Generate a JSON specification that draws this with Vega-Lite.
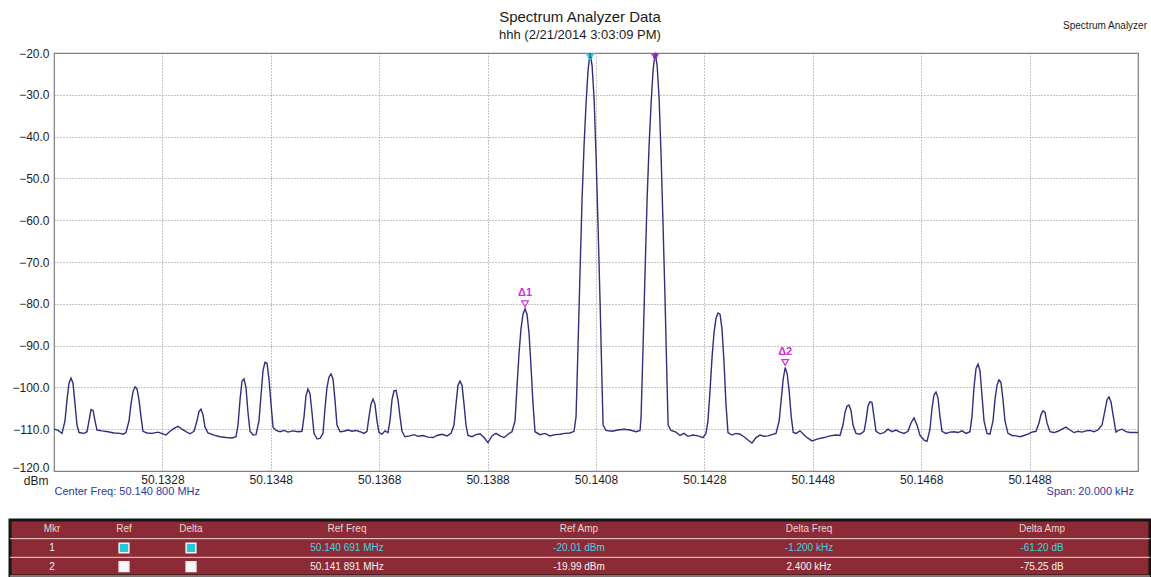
{
  "$schema": "https://vega.github.io/schema/vega-lite/v6.json",
  "background": "white",
  "padding": {"left": 8, "top": 10, "right": 0, "bottom": 0},
  "spacing": 20,
  "title": {
    "text": "Spectrum Analyzer Data",
    "subtitle": "hhh (2/21/2014 3:03:09 PM)",
    "anchor": "middle",
    "frame": "bounds",
    "font": "Liberation Sans",
    "subtitleFont": "Liberation Sans",
    "fontSize": 15,
    "fontWeight": "normal",
    "color": "#1c1c1c",
    "subtitleFontSize": 13,
    "subtitleColor": "#1c1c1c",
    "subtitlePadding": 4,
    "offset": -22
  },
  "config": {
    "font": "Liberation Sans",
    "axis": {"labelFont": "Liberation Sans", "titleFont": "Liberation Sans"}
  },
  "datasets": {
    "trace": [
      {"freq": 50.130800, "amp": -110.0}, {"freq": 50.130874, "amp": -110.3}, {"freq": 50.130948, "amp": -111.0},
      {"freq": 50.131003, "amp": -108}, {"freq": 50.131040, "amp": -103}, {"freq": 50.131077, "amp": -99},
      {"freq": 50.131114, "amp": -97.8}, {"freq": 50.131151, "amp": -99}, {"freq": 50.131188, "amp": -104},
      {"freq": 50.131224, "amp": -109}, {"freq": 50.131261, "amp": -110.8}, {"freq": 50.131354, "amp": -111.0},
      {"freq": 50.131409, "amp": -110.6}, {"freq": 50.131446, "amp": -108}, {"freq": 50.131483, "amp": -105.3},
      {"freq": 50.131520, "amp": -105.5}, {"freq": 50.131557, "amp": -108}, {"freq": 50.131593, "amp": -110.2},
      {"freq": 50.131686, "amp": -110.4}, {"freq": 50.131796, "amp": -110.6}, {"freq": 50.131907, "amp": -110.9},
      {"freq": 50.132018, "amp": -111.0}, {"freq": 50.132073, "amp": -111.2}, {"freq": 50.132128, "amp": -110.8},
      {"freq": 50.132184, "amp": -108}, {"freq": 50.132221, "amp": -104}, {"freq": 50.132258, "amp": -101},
      {"freq": 50.132295, "amp": -99.9}, {"freq": 50.132331, "amp": -100.3}, {"freq": 50.132368, "amp": -103},
      {"freq": 50.132405, "amp": -107}, {"freq": 50.132442, "amp": -110.5}, {"freq": 50.132516, "amp": -110.9},
      {"freq": 50.132608, "amp": -111.0}, {"freq": 50.132719, "amp": -110.7}, {"freq": 50.132811, "amp": -111.1},
      {"freq": 50.132866, "amp": -111.4}, {"freq": 50.132940, "amp": -110.5}, {"freq": 50.133014, "amp": -109.8},
      {"freq": 50.133088, "amp": -109.3}, {"freq": 50.133162, "amp": -110.0}, {"freq": 50.133235, "amp": -110.6},
      {"freq": 50.133309, "amp": -111.1}, {"freq": 50.133383, "amp": -110.5}, {"freq": 50.133438, "amp": -108},
      {"freq": 50.133475, "amp": -105.8}, {"freq": 50.133512, "amp": -105.2}, {"freq": 50.133549, "amp": -106.5},
      {"freq": 50.133586, "amp": -109.5}, {"freq": 50.133641, "amp": -110.9}, {"freq": 50.133752, "amp": -111.4},
      {"freq": 50.133863, "amp": -111.8}, {"freq": 50.133973, "amp": -112.0}, {"freq": 50.134084, "amp": -112.1},
      {"freq": 50.134158, "amp": -111.8}, {"freq": 50.134195, "amp": -109}, {"freq": 50.134232, "amp": -103},
      {"freq": 50.134269, "amp": -98.5}, {"freq": 50.134306, "amp": -98.0}, {"freq": 50.134342, "amp": -100},
      {"freq": 50.134379, "amp": -106}, {"freq": 50.134416, "amp": -110.5}, {"freq": 50.134472, "amp": -111.4},
      {"freq": 50.134527, "amp": -111.3}, {"freq": 50.134582, "amp": -108}, {"freq": 50.134619, "amp": -102},
      {"freq": 50.134656, "amp": -96}, {"freq": 50.134693, "amp": -94.0}, {"freq": 50.134730, "amp": -94.2},
      {"freq": 50.134767, "amp": -98}, {"freq": 50.134804, "amp": -104}, {"freq": 50.134841, "amp": -109.5},
      {"freq": 50.134896, "amp": -110.3}, {"freq": 50.134970, "amp": -110.6}, {"freq": 50.135044, "amp": -110.3},
      {"freq": 50.135117, "amp": -110.7}, {"freq": 50.135210, "amp": -110.4}, {"freq": 50.135302, "amp": -110.6},
      {"freq": 50.135376, "amp": -110.5}, {"freq": 50.135413, "amp": -107}, {"freq": 50.135449, "amp": -102},
      {"freq": 50.135486, "amp": -100.4}, {"freq": 50.135523, "amp": -101.5}, {"freq": 50.135560, "amp": -106},
      {"freq": 50.135597, "amp": -111}, {"freq": 50.135652, "amp": -112.3}, {"freq": 50.135708, "amp": -112.2},
      {"freq": 50.135763, "amp": -111}, {"freq": 50.135800, "amp": -105}, {"freq": 50.135837, "amp": -100},
      {"freq": 50.135874, "amp": -97.5}, {"freq": 50.135911, "amp": -96.8}, {"freq": 50.135948, "amp": -98},
      {"freq": 50.135984, "amp": -103}, {"freq": 50.136021, "amp": -109}, {"freq": 50.136077, "amp": -110.6},
      {"freq": 50.136150, "amp": -110.5}, {"freq": 50.136224, "amp": -110.2}, {"freq": 50.136298, "amp": -110.5},
      {"freq": 50.136372, "amp": -110.3}, {"freq": 50.136446, "amp": -110.6}, {"freq": 50.136520, "amp": -111.0},
      {"freq": 50.136575, "amp": -110.5}, {"freq": 50.136612, "amp": -107}, {"freq": 50.136649, "amp": -104},
      {"freq": 50.136686, "amp": -102.8}, {"freq": 50.136722, "amp": -104}, {"freq": 50.136759, "amp": -108},
      {"freq": 50.136796, "amp": -110.8}, {"freq": 50.136852, "amp": -111.2}, {"freq": 50.136907, "amp": -110.4},
      {"freq": 50.136962, "amp": -110.8}, {"freq": 50.136999, "amp": -108}, {"freq": 50.137036, "amp": -103},
      {"freq": 50.137073, "amp": -100.8}, {"freq": 50.137110, "amp": -100.7}, {"freq": 50.137147, "amp": -103},
      {"freq": 50.137184, "amp": -107}, {"freq": 50.137221, "amp": -110.5}, {"freq": 50.137276, "amp": -111.8},
      {"freq": 50.137368, "amp": -111.6}, {"freq": 50.137442, "amp": -111.3}, {"freq": 50.137516, "amp": -111.7},
      {"freq": 50.137608, "amp": -111.5}, {"freq": 50.137700, "amp": -111.9}, {"freq": 50.137793, "amp": -112.0},
      {"freq": 50.137866, "amp": -111.5}, {"freq": 50.137959, "amp": -111.2}, {"freq": 50.138051, "amp": -111.6},
      {"freq": 50.138125, "amp": -111.0}, {"freq": 50.138180, "amp": -109}, {"freq": 50.138217, "amp": -104},
      {"freq": 50.138254, "amp": -99.5}, {"freq": 50.138291, "amp": -98.5}, {"freq": 50.138328, "amp": -99.5},
      {"freq": 50.138365, "amp": -104}, {"freq": 50.138401, "amp": -109}, {"freq": 50.138438, "amp": -111.5},
      {"freq": 50.138512, "amp": -111.8}, {"freq": 50.138586, "amp": -111.3}, {"freq": 50.138660, "amp": -111.1},
      {"freq": 50.138734, "amp": -112.0}, {"freq": 50.138807, "amp": -113.2}, {"freq": 50.138881, "amp": -111.6},
      {"freq": 50.138955, "amp": -111.0}, {"freq": 50.139029, "amp": -111.6}, {"freq": 50.139103, "amp": -112.0},
      {"freq": 50.139176, "amp": -111.2}, {"freq": 50.139250, "amp": -110.6}, {"freq": 50.139306, "amp": -108},
      {"freq": 50.139342, "amp": -100}, {"freq": 50.139379, "amp": -92}, {"freq": 50.139416, "amp": -86},
      {"freq": 50.139453, "amp": -82.5}, {"freq": 50.139491, "amp": -81.21}, {"freq": 50.139527, "amp": -82.5},
      {"freq": 50.139564, "amp": -87}, {"freq": 50.139601, "amp": -95}, {"freq": 50.139638, "amp": -104},
      {"freq": 50.139675, "amp": -110.6}, {"freq": 50.139767, "amp": -111.3}, {"freq": 50.139859, "amp": -111.0},
      {"freq": 50.139951, "amp": -111.6}, {"freq": 50.140043, "amp": -111.3}, {"freq": 50.140136, "amp": -111.2},
      {"freq": 50.140228, "amp": -111.0}, {"freq": 50.140320, "amp": -110.9}, {"freq": 50.140395, "amp": -110.5},
      {"freq": 50.140432, "amp": -107}, {"freq": 50.140469, "amp": -90}, {"freq": 50.140506, "amp": -72},
      {"freq": 50.140543, "amp": -55}, {"freq": 50.140580, "amp": -42}, {"freq": 50.140617, "amp": -32},
      {"freq": 50.140654, "amp": -24}, {"freq": 50.140691, "amp": -20.01}, {"freq": 50.140728, "amp": -23},
      {"freq": 50.140765, "amp": -31}, {"freq": 50.140802, "amp": -45}, {"freq": 50.140839, "amp": -62},
      {"freq": 50.140876, "amp": -80}, {"freq": 50.140913, "amp": -100}, {"freq": 50.140931, "amp": -109},
      {"freq": 50.140984, "amp": -110.3}, {"freq": 50.141095, "amp": -110.5}, {"freq": 50.141206, "amp": -110.2},
      {"freq": 50.141317, "amp": -110.0}, {"freq": 50.141427, "amp": -110.2}, {"freq": 50.141538, "amp": -110.6},
      {"freq": 50.141613, "amp": -110.3}, {"freq": 50.141632, "amp": -107}, {"freq": 50.141669, "amp": -90},
      {"freq": 50.141706, "amp": -72}, {"freq": 50.141743, "amp": -55}, {"freq": 50.141780, "amp": -42},
      {"freq": 50.141817, "amp": -32}, {"freq": 50.141854, "amp": -24}, {"freq": 50.141891, "amp": -19.99},
      {"freq": 50.141928, "amp": -23}, {"freq": 50.141965, "amp": -31}, {"freq": 50.142002, "amp": -45},
      {"freq": 50.142039, "amp": -62}, {"freq": 50.142076, "amp": -80}, {"freq": 50.142113, "amp": -100},
      {"freq": 50.142131, "amp": -109}, {"freq": 50.142184, "amp": -110.3}, {"freq": 50.142276, "amp": -110.7},
      {"freq": 50.142350, "amp": -111.5}, {"freq": 50.142424, "amp": -111.0}, {"freq": 50.142497, "amp": -111.7},
      {"freq": 50.142590, "amp": -111.4}, {"freq": 50.142682, "amp": -111.6}, {"freq": 50.142774, "amp": -112.0},
      {"freq": 50.142829, "amp": -111.0}, {"freq": 50.142866, "amp": -108}, {"freq": 50.142903, "amp": -101},
      {"freq": 50.142940, "amp": -93}, {"freq": 50.142977, "amp": -87}, {"freq": 50.143014, "amp": -83.5},
      {"freq": 50.143051, "amp": -82.2}, {"freq": 50.143088, "amp": -82.5}, {"freq": 50.143125, "amp": -86},
      {"freq": 50.143162, "amp": -94}, {"freq": 50.143198, "amp": -104}, {"freq": 50.143235, "amp": -110.8},
      {"freq": 50.143309, "amp": -111.4}, {"freq": 50.143383, "amp": -111.0}, {"freq": 50.143457, "amp": -111.2},
      {"freq": 50.143531, "amp": -111.8}, {"freq": 50.143604, "amp": -112.6}, {"freq": 50.143678, "amp": -113.3},
      {"freq": 50.143752, "amp": -112.0}, {"freq": 50.143826, "amp": -111.4}, {"freq": 50.143900, "amp": -111.7},
      {"freq": 50.143973, "amp": -111.6}, {"freq": 50.144047, "amp": -111.3}, {"freq": 50.144121, "amp": -111.0},
      {"freq": 50.144180, "amp": -108}, {"freq": 50.144217, "amp": -103}, {"freq": 50.144254, "amp": -98},
      {"freq": 50.144291, "amp": -95.24}, {"freq": 50.144328, "amp": -96.8}, {"freq": 50.144365, "amp": -101},
      {"freq": 50.144402, "amp": -107}, {"freq": 50.144439, "amp": -110.8}, {"freq": 50.144490, "amp": -111.0},
      {"freq": 50.144564, "amp": -110.4}, {"freq": 50.144674, "amp": -111.8}, {"freq": 50.144785, "amp": -112.8},
      {"freq": 50.144896, "amp": -112.3}, {"freq": 50.145007, "amp": -112.0}, {"freq": 50.145117, "amp": -111.6},
      {"freq": 50.145228, "amp": -111.4}, {"freq": 50.145302, "amp": -111.5}, {"freq": 50.145357, "amp": -109},
      {"freq": 50.145394, "amp": -106}, {"freq": 50.145431, "amp": -104.5}, {"freq": 50.145468, "amp": -104.2},
      {"freq": 50.145505, "amp": -105.5}, {"freq": 50.145542, "amp": -109}, {"freq": 50.145597, "amp": -111.0},
      {"freq": 50.145671, "amp": -111.2}, {"freq": 50.145745, "amp": -110.5}, {"freq": 50.145781, "amp": -108},
      {"freq": 50.145818, "amp": -104.5}, {"freq": 50.145855, "amp": -103.4}, {"freq": 50.145892, "amp": -103.6},
      {"freq": 50.145929, "amp": -107}, {"freq": 50.145966, "amp": -110.5}, {"freq": 50.146040, "amp": -111.1},
      {"freq": 50.146114, "amp": -110.8}, {"freq": 50.146187, "amp": -110.0}, {"freq": 50.146261, "amp": -110.6},
      {"freq": 50.146335, "amp": -110.2}, {"freq": 50.146409, "amp": -110.7}, {"freq": 50.146483, "amp": -111.0},
      {"freq": 50.146556, "amp": -110.5}, {"freq": 50.146612, "amp": -108.5}, {"freq": 50.146667, "amp": -107.3},
      {"freq": 50.146722, "amp": -109}, {"freq": 50.146778, "amp": -111.5}, {"freq": 50.146852, "amp": -112.6},
      {"freq": 50.146907, "amp": -112.9}, {"freq": 50.146962, "amp": -110}, {"freq": 50.146999, "amp": -105},
      {"freq": 50.147036, "amp": -101.8}, {"freq": 50.147073, "amp": -101.1}, {"freq": 50.147110, "amp": -102.5},
      {"freq": 50.147147, "amp": -107}, {"freq": 50.147184, "amp": -110.5}, {"freq": 50.147257, "amp": -111.0},
      {"freq": 50.147331, "amp": -110.7}, {"freq": 50.147405, "amp": -110.6}, {"freq": 50.147479, "amp": -110.8},
      {"freq": 50.147553, "amp": -110.4}, {"freq": 50.147626, "amp": -111.0}, {"freq": 50.147700, "amp": -110.6},
      {"freq": 50.147737, "amp": -107}, {"freq": 50.147774, "amp": -100}, {"freq": 50.147811, "amp": -95.5},
      {"freq": 50.147848, "amp": -94.4}, {"freq": 50.147885, "amp": -96}, {"freq": 50.147922, "amp": -102},
      {"freq": 50.147959, "amp": -108}, {"freq": 50.148014, "amp": -111.0}, {"freq": 50.148069, "amp": -111.2},
      {"freq": 50.148125, "amp": -108}, {"freq": 50.148161, "amp": -103}, {"freq": 50.148198, "amp": -99.5},
      {"freq": 50.148235, "amp": -98.2}, {"freq": 50.148272, "amp": -98.8}, {"freq": 50.148309, "amp": -103},
      {"freq": 50.148346, "amp": -108}, {"freq": 50.148401, "amp": -111.0}, {"freq": 50.148475, "amp": -111.5},
      {"freq": 50.148549, "amp": -111.6}, {"freq": 50.148623, "amp": -111.8}, {"freq": 50.148697, "amp": -111.5},
      {"freq": 50.148770, "amp": -111.2}, {"freq": 50.148844, "amp": -110.7}, {"freq": 50.148918, "amp": -110.5},
      {"freq": 50.148973, "amp": -108.5}, {"freq": 50.149010, "amp": -106.5}, {"freq": 50.149047, "amp": -105.6},
      {"freq": 50.149084, "amp": -106}, {"freq": 50.149121, "amp": -108.5}, {"freq": 50.149176, "amp": -110.6},
      {"freq": 50.149250, "amp": -110.8}, {"freq": 50.149324, "amp": -110.5}, {"freq": 50.149398, "amp": -110.0},
      {"freq": 50.149471, "amp": -109.5}, {"freq": 50.149545, "amp": -110.2}, {"freq": 50.149619, "amp": -110.8},
      {"freq": 50.149693, "amp": -110.5}, {"freq": 50.149767, "amp": -110.7}, {"freq": 50.149840, "amp": -110.4},
      {"freq": 50.149914, "amp": -110.3}, {"freq": 50.149988, "amp": -110.6}, {"freq": 50.150062, "amp": -110.2},
      {"freq": 50.150136, "amp": -109}, {"freq": 50.150191, "amp": -105.5}, {"freq": 50.150228, "amp": -103},
      {"freq": 50.150265, "amp": -102.3}, {"freq": 50.150302, "amp": -103.5}, {"freq": 50.150339, "amp": -106.5},
      {"freq": 50.150394, "amp": -110.7}, {"freq": 50.150449, "amp": -110.2}, {"freq": 50.150505, "amp": -110.0},
      {"freq": 50.150578, "amp": -110.6}, {"freq": 50.150652, "amp": -110.8}, {"freq": 50.150726, "amp": -110.8},
      {"freq": 50.150800, "amp": -110.8}
    ],
    "peaks": [
      {"freq": 50.140691, "amp": -20.01, "label": "1"},
      {"freq": 50.141891, "amp": -19.99, "label": "2"}
    ],
    "deltas": [
      {"freq": 50.139491, "amp": -81.21, "label": "Δ1"},
      {"freq": 50.144291, "amp": -95.24, "label": "Δ2"}
    ],
    "cornerNote": [
      {"freq": 50.1508, "amp": -13.5, "note": "Spectrum Analyzer"}
    ],
    "spanNote": [
      {"freq": 50.1508, "amp": -125, "note": "Span: 20.000 kHz"}
    ],
    "tableRows": [
      {"row": "hdr"}, {"row": "1"}, {"row": "2"}
    ],
    "checkboxes": [
      {"row": "1", "col": 2}, {"row": "1", "col": 3},
      {"row": "2", "col": 2}, {"row": "2", "col": 3}
    ],
    "cells": [
      {"row": "hdr", "col": 1, "text": "Mkr"},
      {"row": "hdr", "col": 2, "text": "Ref"},
      {"row": "hdr", "col": 3, "text": "Delta"},
      {"row": "hdr", "col": 4, "text": "Ref Freq"},
      {"row": "hdr", "col": 5, "text": "Ref Amp"},
      {"row": "hdr", "col": 6, "text": "Delta Freq"},
      {"row": "hdr", "col": 7, "text": "Delta Amp"},
      {"row": "1", "col": 1, "text": "1"},
      {"row": "1", "col": 4, "text": "50.140 691 MHz"},
      {"row": "1", "col": 5, "text": "-20.01 dBm"},
      {"row": "1", "col": 6, "text": "-1.200 kHz"},
      {"row": "1", "col": 7, "text": "-61.20 dB"},
      {"row": "2", "col": 1, "text": "2"},
      {"row": "2", "col": 4, "text": "50.141 891 MHz"},
      {"row": "2", "col": 5, "text": "-19.99 dBm"},
      {"row": "2", "col": 6, "text": "2.400 kHz"},
      {"row": "2", "col": 7, "text": "-75.25 dB"}
    ]
  },
  "vconcat": [
    {
      "spacing": 0,
      "hconcat": [
        {
          "width": 1,
          "height": 1,
          "view": {"stroke": null},
          "data": {"values": []},
          "mark": "point"
        },
        {
          "width": 1084,
          "height": 418,
          "view": {"stroke": "#7d7d7d", "strokeWidth": 1.2},
          "encoding": {
            "x": {
              "field": "freq",
              "type": "quantitative",
              "scale": {"domain": [50.1308, 50.1508], "nice": false, "zero": false},
              "axis": {
                "values": [50.1328, 50.1348, 50.1368, 50.1388, 50.1408, 50.1428, 50.1448, 50.1468, 50.1488],
                "format": ".4f",
                "grid": true,
                "gridColor": "#8a8a8a",
                "gridDash": [1, 2],
                "gridWidth": 1,
                "ticks": false,
                "domain": false,
                "labelFlush": false,
                "labelFontSize": 12,
                "labelColor": "#1e1e1e",
                "labelPadding": 3,
                "title": "Center Freq: 50.140 800 MHz",
                "titleAnchor": "start",
                "titleAlign": "left",
                "titleColor": "#2c3a9c",
                "titleFontSize": 11,
                "titleFontWeight": "normal",
                "titlePadding": 0
              }
            },
            "y": {
              "field": "amp",
              "type": "quantitative",
              "scale": {"domain": [-120, -20], "nice": false, "zero": false},
              "axis": {
                "values": [-120, -110, -100, -90, -80, -70, -60, -50, -40, -30, -20],
                "format": ".1f",
                "grid": true,
                "gridColor": "#8a8a8a",
                "gridDash": [1, 2],
                "gridWidth": 1,
                "ticks": false,
                "domain": false,
                "labelFlush": false,
                "labelFontSize": 12,
                "labelColor": "#1e1e1e",
                "labelPadding": 5,
                "labelOffset": {"condition": {"test": "datum.value === -120", "value": -4}, "value": 0},
                "minExtent": 42,
                "title": "dBm",
                "titleAngle": 0,
                "titleAlign": "right",
                "titleBaseline": "middle",
                "titleX": -6,
                "titleY": 427,
                "titleFontSize": 12,
                "titleFontWeight": "normal",
                "titleColor": "#1e1e1e"
              }
            }
          },
          "layer": [
            {
              "data": {"name": "trace"},
              "mark": {"type": "line", "color": "#2f2f7a", "strokeWidth": 1.4}
            },
            {
              "data": {"name": "deltas"},
              "mark": {"type": "point", "shape": "triangle-down", "filled": false, "color": "#d62ad6", "size": 45, "strokeWidth": 1.2, "yOffset": -5, "opacity": 1}
            },
            {
              "data": {"name": "deltas"},
              "mark": {"type": "text", "dy": -16, "fontSize": 11, "fontWeight": "bold", "color": "#d62ad6"},
              "encoding": {"text": {"field": "label"}}
            },
            {
              "data": {"name": "peaks"},
              "mark": {"type": "point", "shape": "triangle-down", "filled": true, "size": 80, "yOffset": 4, "opacity": 1},
              "encoding": {
                "color": {"field": "label", "type": "nominal", "scale": {"domain": ["1", "2"], "range": ["#27d3e3", "#b43cc8"]}, "legend": null}
              }
            },
            {
              "data": {"name": "peaks"},
              "mark": {"type": "text", "dy": 3, "fontSize": 7, "fontWeight": "bold", "color": "#3a3a6a"},
              "encoding": {"text": {"field": "label"}}
            },
            {
              "data": {"name": "cornerNote"},
              "mark": {"type": "text", "align": "right", "dx": 9, "fontSize": 10, "color": "#222222", "clip": false},
              "encoding": {"text": {"field": "note"}}
            },
            {
              "data": {"name": "spanNote"},
              "mark": {"type": "text", "align": "right", "dx": -4, "fontSize": 11, "color": "#2c3a9c", "clip": false},
              "encoding": {"text": {"field": "note"}}
            }
          ]
        }
      ]
    },
    {
      "width": 1140,
      "height": 56,
      "view": {"fill": "#8c2b35", "stroke": "#151515", "strokeWidth": 3},
      "layer": [
        {
          "data": {"name": "tableRows"},
          "mark": {"type": "rule", "color": "#e6d6d6", "strokeWidth": 1},
          "encoding": {
            "y": {"field": "row", "type": "nominal", "bandPosition": 1, "scale": {"type": "band", "domain": ["hdr", "1", "2"], "paddingInner": 0, "paddingOuter": 0}, "axis": null}
          }
        },
        {
          "data": {"name": "checkboxes"},
          "mark": {"type": "point", "shape": "square", "filled": true, "size": 95, "stroke": "#f0f0f0", "strokeWidth": 1.5, "opacity": 1},
          "encoding": {
            "x": {"field": "col", "type": "quantitative", "scale": {"domain": [1, 2, 3, 4, 5, 6, 7], "range": [42, 114, 181, 337, 569, 799, 1032], "nice": false, "zero": false}, "axis": null},
            "y": {"field": "row", "type": "nominal", "scale": {"type": "band", "domain": ["hdr", "1", "2"], "paddingInner": 0, "paddingOuter": 0}, "axis": null},
            "fill": {"field": "row", "type": "nominal", "scale": {"domain": ["1", "2"], "range": ["#24c8dc", "#f7f7f7"]}, "legend": null}
          }
        },
        {
          "data": {"name": "cells"},
          "mark": {"type": "text", "fontSize": 10},
          "encoding": {
            "x": {"field": "col", "type": "quantitative", "scale": {"domain": [1, 2, 3, 4, 5, 6, 7], "range": [42, 114, 181, 337, 569, 799, 1032], "nice": false, "zero": false}, "axis": null},
            "y": {"field": "row", "type": "nominal", "scale": {"type": "band", "domain": ["hdr", "1", "2"], "paddingInner": 0, "paddingOuter": 0}, "axis": null},
            "text": {"field": "text"},
            "color": {
              "condition": [
                {"test": "datum.row === 'hdr'", "value": "#e4d6d6"},
                {"test": "datum.row === '1' && datum.col > 1", "value": "#3fd3e3"}
              ],
              "value": "#f2f2f2"
            }
          }
        }
      ]
    }
  ]
}
